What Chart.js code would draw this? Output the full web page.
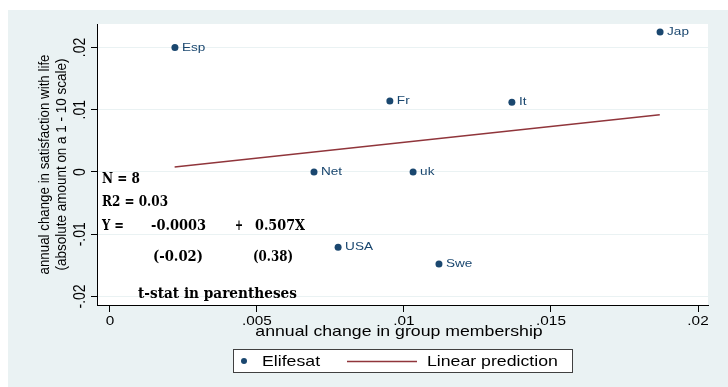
<!DOCTYPE html>
<html>
<head>
<meta charset="utf-8">
<script src="https://cdn.jsdelivr.net/npm/chart.js@4.4.1/dist/chart.umd.min.js"></script>
<style>
  html, body { margin: 0; padding: 0; background: #ffffff; }
  #c { display: block; }
</style>
</head>
<body>
<canvas id="c" width="728" height="387"></canvas>
<script>
// Country scatter: annual change in group membership vs. annual change in life satisfaction
const countries = ['Esp', 'Jap', 'Fr', 'It', 'Net', 'uk', 'USA', 'Swe'];
const groupChange = [0.00221, 0.01871, 0.00952, 0.01367, 0.00694, 0.01031, 0.00776, 0.01119];
const lifesatChange = [0.0200, 0.0225, 0.0114, 0.0112, 0.0000, 0.0000, -0.0121, -0.0148];

// Fitted line (Y = -0.0003 + 0.507X) over the observed x range
const fitX = [0.0022, 0.0187];
const fitY = [0.0008, 0.0092];

const xTicks = [0, 0.005, 0.01, 0.015, 0.02];
const xTickLabels = ['0', '.005', '.01', '.015', '.02'];
const yTicks = [-0.02, -0.01, 0, 0.01, 0.02];
const yTickLabels = ['-.02', '-.01', '0', '.01', '.02'];

const regressionNotes = [
  { text: 'N = 8', x: 102, y: 179, w: 38 },
  { text: 'R2 = 0.03', x: 102, y: 202, w: 66 },
  { text: 'Y =', x: 102, y: 226, w: 22 },
  { text: '-0.0003', x: 151, y: 226, w: 55 },
  { text: '+', x: 235, y: 226, w: 8 },
  { text: '0.507X', x: 255, y: 226, w: 50 },
  { text: '(-0.02)', x: 153, y: 257, w: 50 },
  { text: '(0.38)', x: 253, y: 257, w: 40 },
  { text: 't-stat in parentheses', x: 138, y: 294, w: 159 }
];

const NAVY = '#1a476f';
const MAROON = '#90353b';
const PANEL = '#eaf2f3';
const STRETCH = 1.18;

// Text helper: horizontal stretch, optional rotation, optional fit to width
function drawText(ctx, s, x, y, o) {
  ctx.save();
  ctx.font = o.font;
  ctx.fillStyle = o.color || '#000';
  ctx.textAlign = o.align || 'left';
  ctx.textBaseline = o.baseline || 'middle';
  ctx.translate(x, y);
  let along = o.rot ? 1 : STRETCH;
  if (o.width) along = o.width / ctx.measureText(s).width;
  if (o.rot) {
    ctx.rotate(-Math.PI / 2);
    ctx.scale(along, STRETCH);
  } else {
    ctx.scale(along, 1);
  }
  ctx.fillText(s, 0, 0);
  ctx.restore();
}

const backgroundPlugin = {
  id: 'panelBackground',
  beforeDraw(chart) {
    const ctx = chart.ctx, a = chart.chartArea;
    ctx.save();
    ctx.fillStyle = '#ffffff';
    ctx.fillRect(0, 0, chart.width, chart.height);
    ctx.fillStyle = PANEL;
    ctx.fillRect(8, 10, chart.width - 8, chart.height - 10);
    ctx.fillStyle = '#ffffff';
    ctx.fillRect(a.left, a.top, a.right - a.left, a.bottom - a.top);
    ctx.restore();
  }
};

const labelsPlugin = {
  id: 'labelsAndNotes',
  afterDatasetsDraw(chart) {
    const ctx = chart.ctx;
    const meta = chart.getDatasetMeta(0);
    meta.data.forEach((pt, i) => {
      drawText(ctx, countries[i], pt.x + 7, pt.y, { font: '11.5px "Liberation Sans"', color: NAVY });
    });
  },
  afterDraw(chart) {
    const ctx = chart.ctx, a = chart.chartArea;
    const xs = chart.scales.x, ys = chart.scales.y;

    // tick labels
    xTicks.forEach((v, i) => {
      drawText(ctx, xTickLabels[i], xs.getPixelForValue(v), 325, {
        font: '13px "Liberation Sans"', align: 'center', baseline: 'alphabetic'
      });
    });
    yTicks.forEach((v, i) => {
      drawText(ctx, yTickLabels[i], 80, ys.getPixelForValue(v), {
        font: '14px "Liberation Sans"', align: 'center', baseline: 'middle', rot: true
      });
    });

    // axis titles
    drawText(ctx, 'annual change in group membership', 399, 336, {
      font: '15px "Liberation Sans"', align: 'center', baseline: 'alphabetic'
    });
    const midY = (a.top + a.bottom) / 2;
    drawText(ctx, 'annual change in satisfaction with life', 45, midY, {
      font: '12px "Liberation Sans"', align: 'center', rot: true, width: 220
    });
    drawText(ctx, '(absolute amount on a 1 - 10 scale)', 62, midY, {
      font: '12px "Liberation Sans"', align: 'center', rot: true, width: 212
    });

    // regression summary
    regressionNotes.forEach(n => {
      drawText(ctx, n.text, n.x, n.y, { font: 'bold 15px "DejaVu Serif"', width: n.w });
    });

    // legend
    ctx.save();
    ctx.fillStyle = '#ffffff';
    ctx.fillRect(233.5, 349.5, 339, 23);
    ctx.strokeStyle = '#404040';
    ctx.lineWidth = 1;
    ctx.strokeRect(233.5, 349.5, 339, 23);
    ctx.fillStyle = NAVY;
    ctx.beginPath();
    ctx.arc(244, 361, 3, 0, Math.PI * 2);
    ctx.fill();
    ctx.strokeStyle = MAROON;
    ctx.lineWidth = 1.3;
    ctx.beginPath();
    ctx.moveTo(347, 361.5);
    ctx.lineTo(417, 361.5);
    ctx.stroke();
    ctx.restore();
    drawText(ctx, 'Elifesat', 262, 362, { font: '15px "Liberation Sans"' });
    drawText(ctx, 'Linear prediction', 427, 362, { font: '15px "Liberation Sans"' });
  }
};

const points = groupChange.map((x, i) => ({ x: x, y: lifesatChange[i] }));
const fitLine = fitX.map((x, i) => ({ x: x, y: fitY[i] }));

new Chart(document.getElementById('c'), {
  type: 'scatter',
  data: {
    datasets: [
      {
        label: 'Elifesat',
        data: points,
        pointRadius: 3.5,
        pointHoverRadius: 3.5,
        pointBackgroundColor: NAVY,
        pointBorderColor: NAVY,
        pointBorderWidth: 0,
        showLine: false,
        order: 1
      },
      {
        type: 'line',
        label: 'Linear prediction',
        data: fitLine,
        borderColor: MAROON,
        borderWidth: 1.4,
        pointRadius: 0,
        fill: false,
        order: 2
      }
    ]
  },
  options: {
    responsive: false,
    animation: false,
    devicePixelRatio: 1,
    layout: { padding: { left: 0, top: 24, right: 20, bottom: 0 } },
    plugins: { legend: { display: false }, tooltip: { enabled: false }, title: { display: false } },
    scales: {
      x: {
        type: 'linear',
        min: -0.00044,
        max: 0.02034,
        afterBuildTicks: s => { s.ticks = xTicks.map(v => ({ value: v })); },
        afterFit: s => { s.height = 82; },
        ticks: { display: false },
        grid: { drawOnChartArea: false, drawTicks: true, tickLength: 7, tickColor: '#000', color: '#000' },
        border: { display: true, color: '#000', width: 1 }
      },
      y: {
        type: 'linear',
        min: -0.02137,
        max: 0.02378,
        afterBuildTicks: s => { s.ticks = yTicks.map(v => ({ value: v })); },
        afterFit: s => { s.width = 97; },
        ticks: { display: false },
        grid: { drawOnChartArea: true, color: PANEL, lineWidth: 1, drawTicks: true, tickLength: 6, tickColor: '#000' },
        border: { display: true, color: '#000', width: 1 }
      }
    }
  },
  plugins: [backgroundPlugin, labelsPlugin]
});
</script>
</body>
</html>
